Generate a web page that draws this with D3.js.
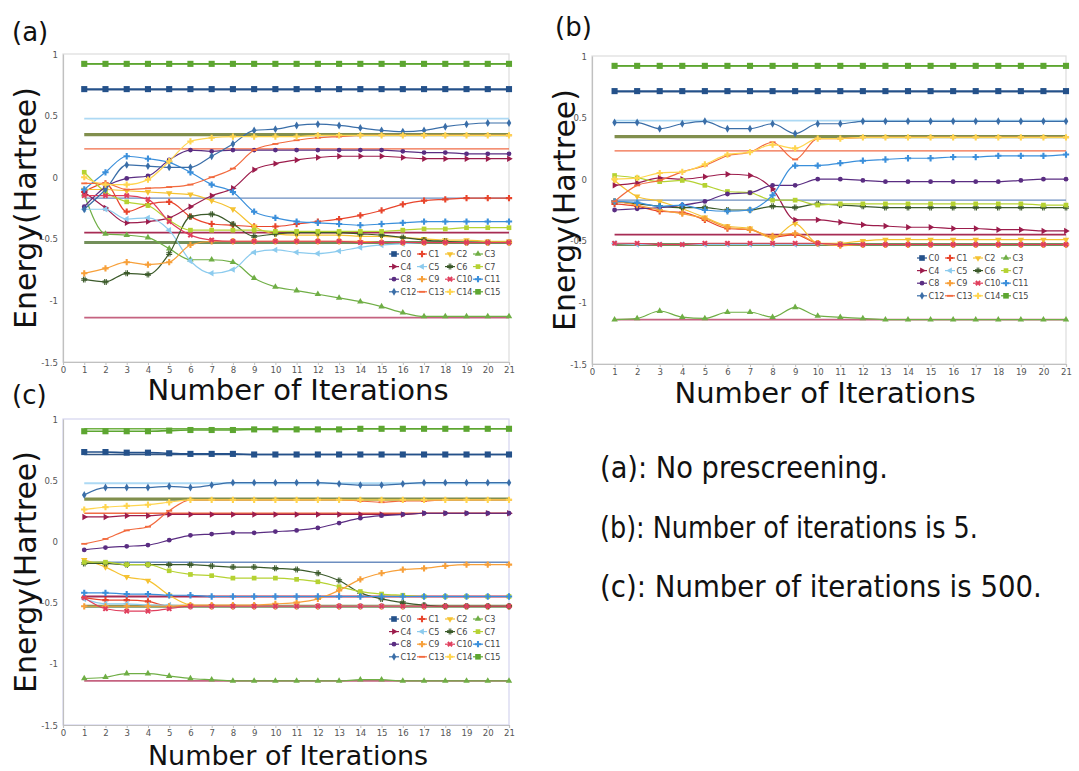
<!DOCTYPE html>
<html><head><meta charset="utf-8">
<script src="https://cdn.jsdelivr.net/npm/d3@7"></script>
<style>body{margin:0;background:#fff}svg{display:block}</style>
</head><body>
<svg id="chart" width="1079" height="771"></svg>
<script>
// ---------- data ----------
const iterations = [1,2,3,4,5,6,7,8,9,10,11,12,13,14,15,16,17,18,19,20,21];
const xTicks = [0,1,2,3,4,5,6,7,8,9,10,11,12,13,14,15,16,17,18,19,20,21];
const yTicks = [1,0.5,0,-0.5,-1,-1.5];
const yTickLabels = ["1","0.5","0","-0.5","-1","-1.5"];
const seriesNames = ["C0","C1","C2","C3","C4","C5","C6","C7","C8","C9","C10","C11","C12","C13","C14","C15"];
const seriesColors = ["#24518a","#e8452c","#f5c232","#6fae45","#9c1c4c","#8ccbee","#3b5a2a","#b5d232","#5a2d82","#f7a03a","#e03e5c","#3a8fdb","#3a6ea8","#f26a3e","#ffd54f","#5da631"];
const seriesShapes = ["square","plus","tdown","tup","tright","tleft","hash","square","circle","plus","x","plus","diamond","dash","plus","square"];
const exactLevels = [0.92,0.71,0.475,0.345,0.23,-0.17,-0.45,-0.53,-1.14];
const exactColors = ["#6aae3c","#2a4f80","#a9d8f4","#7b8a44","#f0643c","#6689bd","#a3214b","#6c8a52","#c25a7a"];
const panelLabels = ["(a)","(b)","(c)"];
const xTitle = "Number of Iterations";
const yTitle = "Energy(Hartree)";
const notes = ["(a): No prescreening.","(b): Number of iterations is 5.","(c): Number of iterations is 500."];

// panel (a): no prescreening
const energiesA = [
 [0.715,0.715,0.715,0.715,0.715,0.715,0.715,0.715,0.715,0.715,0.715,0.715,0.715,0.715,0.715,0.715,0.715,0.715,0.715,0.715,0.715],
 [-0.12,-0.05,-0.28,-0.22,-0.20,-0.32,-0.38,-0.39,-0.40,-0.40,-0.38,-0.36,-0.34,-0.31,-0.27,-0.22,-0.19,-0.18,-0.17,-0.17,-0.17],
 [-0.10,-0.10,-0.11,-0.12,-0.13,-0.14,-0.19,-0.26,-0.40,-0.46,-0.47,-0.47,-0.47,-0.48,-0.48,-0.49,-0.50,-0.51,-0.51,-0.52,-0.52],
 [-0.14,-0.46,-0.47,-0.49,-0.58,-0.67,-0.67,-0.69,-0.82,-0.89,-0.92,-0.95,-0.98,-1.01,-1.05,-1.10,-1.13,-1.13,-1.13,-1.13,-1.13],
 [-0.12,-0.25,-0.37,-0.36,-0.33,-0.24,-0.15,-0.09,0.06,0.11,0.14,0.16,0.17,0.17,0.17,0.16,0.15,0.15,0.15,0.15,0.15],
 [-0.26,-0.26,-0.34,-0.33,-0.43,-0.68,-0.78,-0.75,-0.61,-0.59,-0.61,-0.62,-0.60,-0.57,-0.55,-0.54,-0.53,-0.53,-0.53,-0.53,-0.53],
 [-0.83,-0.85,-0.78,-0.79,-0.62,-0.32,-0.30,-0.38,-0.48,-0.46,-0.45,-0.45,-0.45,-0.46,-0.47,-0.49,-0.51,-0.52,-0.53,-0.53,-0.53],
 [0.04,-0.12,-0.20,-0.23,-0.35,-0.43,-0.43,-0.43,-0.43,-0.44,-0.44,-0.44,-0.44,-0.44,-0.44,-0.43,-0.42,-0.42,-0.41,-0.41,-0.41],
 [-0.24,-0.08,-0.01,0.01,0.14,0.22,0.21,0.22,0.22,0.22,0.22,0.22,0.22,0.22,0.22,0.21,0.20,0.20,0.19,0.19,0.19],
 [-0.78,-0.74,-0.69,-0.71,-0.69,-0.55,-0.52,-0.52,-0.52,-0.52,-0.52,-0.52,-0.52,-0.52,-0.53,-0.53,-0.53,-0.53,-0.53,-0.53,-0.53],
 [-0.15,-0.15,-0.15,-0.18,-0.36,-0.47,-0.51,-0.52,-0.52,-0.52,-0.52,-0.52,-0.52,-0.53,-0.53,-0.53,-0.53,-0.53,-0.53,-0.53,-0.53],
 [-0.10,0.04,0.17,0.15,0.12,0.04,-0.06,-0.12,-0.28,-0.33,-0.36,-0.37,-0.38,-0.39,-0.38,-0.37,-0.36,-0.36,-0.36,-0.36,-0.36],
 [-0.26,-0.10,0.10,0.09,0.08,0.08,0.17,0.27,0.38,0.39,0.42,0.43,0.42,0.40,0.38,0.37,0.38,0.41,0.43,0.44,0.44],
 [-0.05,-0.05,-0.10,-0.09,-0.08,-0.06,0.00,0.07,0.22,0.27,0.30,0.32,0.33,0.34,0.34,0.34,0.34,0.34,0.34,0.34,0.34],
 [0.00,-0.06,-0.06,-0.02,0.13,0.29,0.32,0.33,0.33,0.33,0.33,0.34,0.34,0.34,0.34,0.34,0.34,0.34,0.34,0.34,0.34],
 [0.92,0.92,0.92,0.92,0.92,0.92,0.92,0.92,0.92,0.92,0.92,0.92,0.92,0.92,0.92,0.92,0.92,0.92,0.92,0.92,0.92]
];
// panel (b): 5 iterations
const energiesB = [
 [0.715,0.715,0.715,0.715,0.715,0.715,0.715,0.715,0.715,0.715,0.715,0.715,0.715,0.715,0.715,0.715,0.715,0.715,0.715,0.715,0.715],
 [-0.20,-0.22,-0.26,-0.27,-0.33,-0.40,-0.41,-0.47,-0.45,-0.52,-0.53,-0.53,-0.53,-0.53,-0.53,-0.53,-0.53,-0.53,-0.53,-0.53,-0.53],
 [-0.01,-0.14,-0.18,-0.24,-0.31,-0.38,-0.40,-0.48,-0.36,-0.52,-0.52,-0.50,-0.49,-0.49,-0.49,-0.49,-0.49,-0.49,-0.49,-0.49,-0.49],
 [-1.14,-1.13,-1.07,-1.12,-1.13,-1.08,-1.08,-1.12,-1.04,-1.11,-1.12,-1.13,-1.14,-1.14,-1.14,-1.14,-1.14,-1.14,-1.14,-1.14,-1.14],
 [-0.05,-0.03,0.01,0.00,0.02,0.04,0.03,-0.08,-0.33,-0.33,-0.35,-0.37,-0.38,-0.39,-0.39,-0.40,-0.40,-0.41,-0.41,-0.42,-0.42],
 [-0.52,-0.53,-0.53,-0.53,-0.53,-0.53,-0.53,-0.53,-0.53,-0.53,-0.53,-0.53,-0.53,-0.53,-0.53,-0.53,-0.53,-0.53,-0.53,-0.53,-0.53],
 [-0.18,-0.20,-0.22,-0.23,-0.23,-0.25,-0.25,-0.22,-0.23,-0.20,-0.21,-0.22,-0.23,-0.23,-0.23,-0.23,-0.23,-0.23,-0.23,-0.23,-0.23],
 [0.03,0.01,-0.02,-0.01,-0.05,-0.10,-0.11,-0.17,-0.17,-0.21,-0.20,-0.20,-0.20,-0.20,-0.20,-0.20,-0.20,-0.20,-0.20,-0.21,-0.21],
 [-0.25,-0.24,-0.23,-0.21,-0.18,-0.12,-0.11,-0.05,-0.05,0.00,0.00,-0.01,-0.02,-0.02,-0.02,-0.02,-0.02,-0.02,-0.01,0.00,0.00],
 [-0.18,-0.21,-0.25,-0.28,-0.32,-0.39,-0.41,-0.46,-0.44,-0.52,-0.54,-0.53,-0.53,-0.53,-0.53,-0.53,-0.53,-0.53,-0.53,-0.53,-0.53],
 [-0.52,-0.52,-0.53,-0.53,-0.52,-0.52,-0.52,-0.52,-0.52,-0.52,-0.53,-0.53,-0.53,-0.53,-0.53,-0.53,-0.53,-0.53,-0.53,-0.53,-0.53],
 [-0.18,-0.19,-0.22,-0.21,-0.25,-0.26,-0.25,-0.13,0.11,0.11,0.13,0.15,0.16,0.17,0.17,0.18,0.18,0.19,0.19,0.19,0.20],
 [0.46,0.46,0.41,0.45,0.47,0.41,0.41,0.45,0.37,0.45,0.45,0.47,0.47,0.47,0.47,0.47,0.47,0.47,0.47,0.47,0.47],
 [-0.18,-0.05,-0.01,0.06,0.11,0.19,0.22,0.30,0.16,0.33,0.33,0.34,0.34,0.34,0.34,0.34,0.34,0.34,0.34,0.34,0.34],
 [0.00,0.01,0.05,0.06,0.12,0.20,0.22,0.28,0.25,0.33,0.33,0.34,0.34,0.34,0.34,0.34,0.34,0.34,0.34,0.34,0.34],
 [0.92,0.92,0.92,0.92,0.92,0.92,0.92,0.92,0.92,0.92,0.92,0.92,0.92,0.92,0.92,0.92,0.92,0.92,0.92,0.92,0.92]
];
// panel (c): 500 iterations
const energiesC = [
 [0.73,0.73,0.725,0.725,0.72,0.715,0.715,0.715,0.71,0.71,0.71,0.71,0.71,0.71,0.71,0.71,0.71,0.71,0.71,0.71,0.71],
 [-0.46,-0.48,-0.48,-0.49,-0.53,-0.53,-0.53,-0.53,-0.53,-0.53,-0.53,-0.53,-0.53,-0.53,-0.53,-0.53,-0.53,-0.53,-0.53,-0.53,-0.53],
 [-0.15,-0.21,-0.29,-0.32,-0.44,-0.52,-0.53,-0.53,-0.53,-0.53,-0.53,-0.53,-0.53,-0.53,-0.53,-0.53,-0.53,-0.53,-0.53,-0.53,-0.53],
 [-1.12,-1.11,-1.08,-1.08,-1.10,-1.12,-1.13,-1.14,-1.14,-1.14,-1.14,-1.14,-1.14,-1.13,-1.13,-1.14,-1.14,-1.14,-1.14,-1.14,-1.14],
 [0.20,0.20,0.21,0.21,0.22,0.22,0.22,0.22,0.22,0.22,0.22,0.22,0.22,0.22,0.22,0.22,0.23,0.23,0.23,0.23,0.23],
 [-0.47,-0.51,-0.51,-0.52,-0.52,-0.53,-0.53,-0.53,-0.53,-0.53,-0.53,-0.53,-0.53,-0.53,-0.53,-0.53,-0.53,-0.53,-0.53,-0.53,-0.53],
 [-0.18,-0.18,-0.19,-0.19,-0.19,-0.19,-0.20,-0.21,-0.21,-0.22,-0.23,-0.26,-0.32,-0.42,-0.47,-0.50,-0.52,-0.53,-0.53,-0.53,-0.53],
 [-0.17,-0.17,-0.19,-0.19,-0.24,-0.27,-0.28,-0.30,-0.30,-0.30,-0.31,-0.33,-0.37,-0.41,-0.43,-0.44,-0.45,-0.45,-0.45,-0.45,-0.45],
 [-0.07,-0.05,-0.04,-0.03,0.01,0.05,0.06,0.07,0.07,0.08,0.09,0.11,0.15,0.19,0.21,0.22,0.23,0.23,0.23,0.23,0.23],
 [-0.53,-0.53,-0.53,-0.53,-0.53,-0.52,-0.52,-0.52,-0.52,-0.51,-0.50,-0.47,-0.40,-0.31,-0.26,-0.23,-0.22,-0.20,-0.19,-0.19,-0.19],
 [-0.46,-0.55,-0.57,-0.57,-0.55,-0.53,-0.53,-0.53,-0.53,-0.53,-0.53,-0.53,-0.53,-0.53,-0.53,-0.53,-0.53,-0.53,-0.53,-0.53,-0.53],
 [-0.42,-0.42,-0.43,-0.43,-0.44,-0.44,-0.45,-0.45,-0.45,-0.45,-0.45,-0.45,-0.45,-0.45,-0.45,-0.45,-0.45,-0.45,-0.45,-0.45,-0.45],
 [0.38,0.44,0.44,0.44,0.45,0.44,0.46,0.48,0.48,0.48,0.48,0.48,0.47,0.46,0.46,0.47,0.48,0.48,0.48,0.48,0.48],
 [-0.02,0.02,0.09,0.12,0.25,0.34,0.34,0.34,0.34,0.34,0.34,0.34,0.34,0.33,0.32,0.33,0.33,0.34,0.34,0.34,0.34],
 [0.26,0.28,0.29,0.30,0.32,0.34,0.34,0.34,0.34,0.34,0.34,0.34,0.34,0.34,0.34,0.34,0.34,0.34,0.34,0.34,0.34],
 [0.90,0.90,0.90,0.90,0.905,0.91,0.91,0.91,0.915,0.915,0.915,0.915,0.915,0.92,0.92,0.92,0.92,0.92,0.92,0.92,0.92]
];

// ---------- layout ----------
const panels = [
 {data: energiesA, left:63, right:509, top:54, bottom:362, lab:[12,41], yt:[36,208], xt:[298,400], xs:29, leg:[394,254]},
 {data: energiesB, left:592, right:1066, top:56, bottom:364, lab:[555,36], yt:[575,210], xt:[825,403], xs:29, leg:[922,258]},
 {data: energiesC, left:63, right:509, top:419, bottom:725, lab:[12,404], yt:[36,572], xt:[288,764.5], xs:27, leg:[394,619]}
];

const svg = d3.select("#chart");
svg.append("rect").attr("width",1079).attr("height",771).attr("fill","#fff");

function markerPath(shape){
  const s = (t,a)=>d3.symbol().type(t).size(a)();
  switch(shape){
    case "square": return s(d3.symbolSquare,22);
    case "plus": return s(d3.symbolCross,22);
    case "tup": return s(d3.symbolTriangle,18);
    case "tdown": return s(d3.symbolTriangle,18);
    case "tright": return s(d3.symbolTriangle,18);
    case "tleft": return s(d3.symbolTriangle,18);
    case "circle": return s(d3.symbolCircle,18);
    case "diamond": return s(d3.symbolDiamond,18);
    case "x": return s(d3.symbolCross,20);
    case "dash": return "M-3,-0.9H3V0.9H-3Z";
    case "hash": return "M-3,-1.3H3V-0.3H-3ZM-3,0.3H3V1.3H-3ZM-1.3,-3H-0.3V3H-1.3ZM0.3,-3H1.3V3H0.3Z";
  }
}
function markerRot(shape){
  return {tdown:180,tright:90,tleft:-90,x:45}[shape]||0;
}

panels.forEach((p,pi)=>{
  const x = d3.scaleLinear().domain([0,21]).range([p.left,p.right]);
  const y = d3.scaleLinear().domain([-1.5,1]).range([p.bottom,p.top]);
  const g = svg.append("g");

  // frame
  g.append("rect").attr("x",p.left).attr("y",p.top).attr("width",p.right-p.left).attr("height",p.bottom-p.top)
   .attr("fill","none").attr("stroke",pi===2?"#d4d4ee":"#dcdcdc").attr("stroke-width",1.2);

  // axes
  const xa = g.append("g").attr("transform",`translate(0,${p.bottom})`)
    .call(d3.axisBottom(x).tickValues(xTicks).tickSize(3).tickPadding(1).tickFormat(d=>String(d)));
  const ya = g.append("g").attr("transform",`translate(${p.left},0)`)
    .call(d3.axisLeft(y).tickValues(yTicks).tickSize(0).tickPadding(5).tickFormat((d,i)=>yTickLabels[i]));
  [xa,ya].forEach(a=>{
    a.select(".domain").attr("stroke","#c0c0c0").attr("stroke-width",1.2);
    a.selectAll(".tick line").attr("stroke","#c0c0c0");
    a.selectAll("text").attr("fill","#555").style("font-family","'Liberation Sans Narrow','DejaVu Sans Condensed',sans-serif").style("font-size","9.5px");
  });

  // exact reference levels
  exactLevels.forEach((v,i)=>{
    const w = (i===3||i===7)?3.2:(i===2||i===6||i===8?1.8:1.4);
    g.append("line").attr("x1",x(1)).attr("x2",x(21)).attr("y1",y(v)).attr("y2",y(v))
     .attr("stroke",exactColors[i]).attr("stroke-width",w).attr("opacity",0.95);
  });

  // series
  const line = d3.line().x((d,i)=>x(iterations[i])).y(d=>y(d)).curve(d3.curveMonotoneX);
  p.data.forEach((vals,si)=>{
    const big = (si===0||si===15);
    g.append("path").attr("d",line(vals)).attr("fill","none")
     .attr("stroke",seriesColors[si]).attr("stroke-width",big?1.6:1.2);
    const path = markerPath(seriesShapes[si]);
    g.selectAll(null).data(vals).join("path")
      .attr("d",path)
      .attr("transform",(d,i)=>`translate(${x(iterations[i])},${y(d)}) rotate(${markerRot(seriesShapes[si])}) scale(${big?1.3:1})`)
      .attr("fill",seriesColors[si]);
  });

  // legend
  const lg = g.append("g").attr("transform",`translate(${p.leg[0]},${p.leg[1]})`);
  seriesNames.forEach((n,si)=>{
    const col = si%4, row = Math.floor(si/4);
    const it = lg.append("g").attr("transform",`translate(${col*28},${row*12.6})`);
    it.append("line").attr("x1",-5).attr("x2",5).attr("y1",0).attr("y2",0).attr("stroke",seriesColors[si]).attr("stroke-width",1.2);
    it.append("path").attr("d",markerPath(seriesShapes[si]))
      .attr("transform",`rotate(${markerRot(seriesShapes[si])}) scale(${(si===0||si===15)?1.2:1})`).attr("fill",seriesColors[si]);
    it.append("text").attr("x",6.5).attr("y",0).attr("dy","0.35em").text(n)
      .attr("fill","#444").style("font-family","'Liberation Sans Narrow','DejaVu Sans Condensed',sans-serif").style("font-size","9px");
  });

  // titles
  g.append("text").attr("transform",`translate(${p.yt[0]},${p.yt[1]}) rotate(-90)`).attr("text-anchor","middle")
   .style("font-family","'DejaVu Sans',sans-serif").style("font-size","30px").attr("fill","#111").text(yTitle);
  g.append("text").attr("x",p.xt[0]).attr("y",p.xt[1]).attr("text-anchor","middle")
   .style("font-family","'DejaVu Sans',sans-serif").style("font-size",p.xs+"px").attr("fill","#111").text(xTitle);
  g.append("text").attr("x",p.lab[0]).attr("y",p.lab[1])
   .style("font-family","'DejaVu Sans',sans-serif").style("font-size","26px").attr("fill","#111").text(panelLabels[pi]);
});

// notes (horizontally condensed to the reference widths)
const noteY = [478,538,597];
const noteW = [288,378,442];
notes.forEach((t,i)=>{
  const tx = svg.append("text").attr("x",0).attr("y",0).text(t)
    .style("font-family","'DejaVu Sans',sans-serif").style("font-size","31px").attr("fill","#111");
  const w = tx.node().getComputedTextLength();
  tx.attr("transform",`translate(600,${noteY[i]}) scale(${noteW[i]/w},1)`);
});
</script>
</body></html>
